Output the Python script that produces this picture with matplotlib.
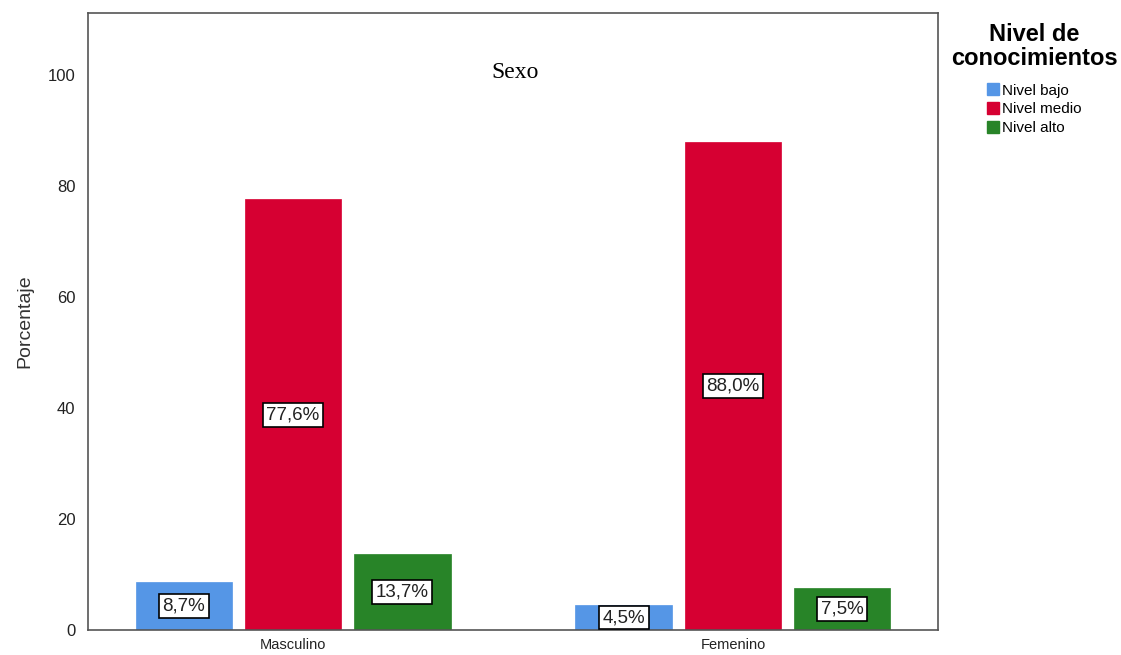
import numpy as np
import matplotlib.pyplot as plt
from matplotlib.patches import Patch

plt.rcParams['font.family'] = ['Liberation Sans', 'DejaVu Sans']

grupos = ['Masculino', 'Femenino']
niveles = ['Nivel bajo', 'Nivel medio', 'Nivel alto']
bajo = [8.7, 4.5]
medio = [77.6, 88.0]
alto = [13.7, 7.5]
colores = ['#5596e6', '#d60032', '#288428']

fig = plt.figure(figsize=(11.21, 6.55), dpi=100)
ax = fig.add_axes([88/1121, 25/655, 850/1121, 617/655])

x = np.arange(len(grupos))
ancho = 0.22
desp = 0.248
for i, (serie, c) in enumerate(zip([bajo, medio, alto], colores)):
    pos = x + (i - 1) * desp
    ax.bar(pos, serie, ancho, color=c, edgecolor=c, linewidth=0.5)
    for xp, v in zip(pos, serie):
        etiqueta = ('%.1f%%' % v).replace('.', ',')
        ax.text(xp, v / 2, etiqueta, ha='center', va='center', fontsize=13.5,
                color='#222222',
                bbox=dict(boxstyle='square,pad=0.18', fc='white', ec='black', lw=1.2))

ax.set_xlim(-0.466, 1.466)
ax.set_ylim(0, 111.2)
ax.set_yticks([0, 20, 40, 60, 80, 100])
ax.set_xticks(x)
ax.set_xticklabels(grupos, fontsize=10.5)
ax.tick_params(axis='y', labelsize=12, length=0, pad=9, labelcolor='#222222')
ax.tick_params(axis='x', length=0, pad=6, labelcolor='#222222')
for s in ax.spines.values():
    s.set_color('#555555')
    s.set_linewidth(1.2)
ax.set_ylabel('Porcentaje', fontsize=14, color='#333333', labelpad=10)

ax.text(0.502, 0.903, 'Sexo', transform=ax.transAxes, ha='center', va='center',
        fontsize=17, family='Liberation Serif')

handles = [Patch(facecolor=c, edgecolor=c) for c in colores]
leg = fig.legend(handles, niveles, loc='upper center', bbox_to_anchor=(1034/1121, 1 - 15/655),
                 frameon=False, fontsize=11, title='Nivel de\nconocimientos',
                 title_fontproperties={'weight': 'bold', 'size': 17, 'family': 'Liberation Sans'},
                 handlelength=0.8, handleheight=0.8, handletextpad=0.2,
                 labelspacing=0.3, borderpad=0)
leg._legend_box.align = 'center'
leg._legend_box.sep = 10
leg.get_title().set_multialignment('center')
leg.get_title().set_linespacing(1.05)

fig.savefig('out.png', dpi=100)
